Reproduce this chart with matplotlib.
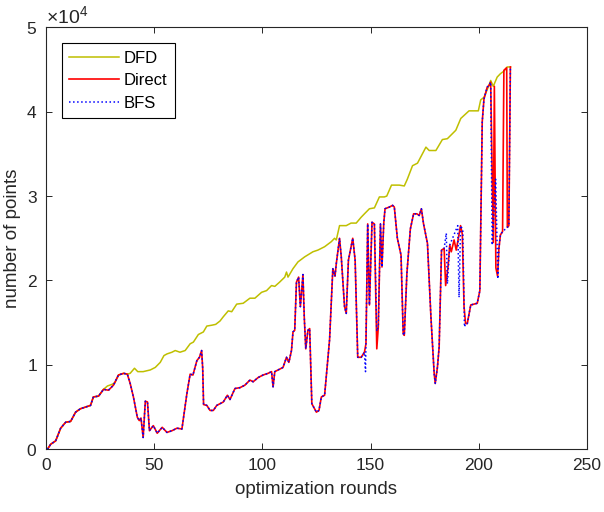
import numpy as np
import matplotlib
matplotlib.use('Agg')
import matplotlib.pyplot as plt
from matplotlib.ticker import ScalarFormatter

# ---- data (round, number of points) ----
dfd_rounds = [0.8, 2.3, 4.6, 6.9, 9.2, 11.5, 13.8, 16, 18.4, 20.7, 22, 24.4, 26.7, 28.5, 30.7, 32,
              33.6, 36, 37.7, 39, 41, 42.5, 45, 48.3, 50.6, 52.9, 54.6, 56, 58.3, 59.8, 62, 64.4,
              66.7, 68.2, 70.5, 72.8, 74.4, 76.7, 78.5, 80.5, 82, 84.3, 85.9, 88.2, 91.2, 94.3,
              96.6, 99.7, 102, 104.3, 105.8, 108, 110.4, 111.2, 111.9, 114.2, 116.5, 119.6, 123.4,
              125.7, 128.8, 131.9, 133.4, 134.2, 135.7, 138.8, 141, 143.4, 145.7, 147.2, 149.5,
              151.8, 154.1, 156.4, 157.5, 159.7, 163.3, 165.6, 167, 169.4, 171.7, 175.6, 177.1,
              180.2, 183.2, 185.5, 189.4, 191.7, 195.5, 199.8, 200.9, 202.4, 204.7, 205.5, 206.7,
              208.5, 210, 211.6, 213.1, 214.7]
dfd_points = [0, 600, 1000, 2500, 3200, 3300, 4400, 4800, 5000, 5200, 6200, 6300, 7100, 7500, 7700, 7900,
              8800, 9000, 8900, 9000, 9600, 9200, 9200, 9400, 9700, 10300, 11100, 11300, 11500, 11700, 11500, 11700,
              12500, 12700, 13600, 13900, 14600, 14700, 14800, 15200, 15700, 16400, 16300, 17200, 17300, 17900,
              17900, 18600, 18800, 19400, 19300, 19800, 20400, 21000, 20400, 21400, 22200, 22800, 23400,
              23600, 24000, 24600, 25000, 24800, 26500, 26500, 26800, 26800, 27500, 27900, 28500,
              28600, 29900, 29900, 30000, 31300, 31300, 31200, 32000, 33600, 33900, 35800, 35400,
              35400, 36700, 36800, 37800, 39200, 40100, 40100, 41400, 41700, 43100, 43700, 43000,
              44100, 44500, 44800, 45300, 45300]

direct_rounds = [0.8, 2.3, 4.6, 6.9, 9.2, 11.5, 13.8, 16, 18.4, 20.7, 22, 24.4, 26.7, 29, 31.3, 33.6,
                 36, 37.7, 39, 40.5, 42.3, 43.2, 44, 45, 46, 47, 47.9, 49.7, 51.5, 53.8, 56, 58.3,
                 60.6, 62.9, 64, 65.2, 66.7, 68, 69.8, 71, 72, 72.5, 72.9, 74.4, 75.9, 77.4, 79, 80.5,
                 82, 83.9, 85.1, 87.4, 89.7, 92, 94.3, 95.8, 98.1, 100.4, 102.7, 104.3, 105, 105.8,
                 107.3, 109.6, 111.2, 112.3, 113.5, 114.2, 115, 115.8, 116.8, 117.6, 118.1, 118.8,
                 119.4, 120.1, 121.1, 121.9, 122.9, 125, 126.2, 127.3, 128.8, 131.1, 132.6, 133.6,
                 134.2, 135.7, 136.5, 138, 138.8, 139.8, 141.8, 142.9, 144.1, 145.7, 147.2, 147.9,
                 148.7, 149.5, 150.7, 151.8, 152.9, 153.6, 154.6, 155.3, 156.1, 156.7, 158.7, 160.2,
                 161, 162.4, 164.1, 165.1, 165.6, 166.8, 168.4, 169.9, 171.4, 172.5, 173.5, 174.5,
                 176.3, 177.9, 179.4, 179.9, 180.9, 181.7, 182.8, 184, 184.7, 185.8, 186.6, 187.3,
                 188.6, 189.6, 190.9, 191.6, 192.4, 193.2, 193.9, 194.7, 196.3, 199.3, 200.5, 201.6,
                 202.4, 203.9, 204.7, 205.5, 206.7, 207.2, 207.9, 208.7, 209.3, 210, 211, 211.6,
                 212.9, 213.2, 213.9, 214.6]
direct_points = [0, 600, 1000, 2500, 3200, 3300, 4400, 4800, 5000, 5200, 6200, 6300, 7100, 7000, 7600, 8800,
                 9000, 8900, 7800, 6200, 3800, 3400, 3700, 1400, 5700, 5600, 2200, 2800, 1900, 2600, 2000, 2200,
                 2500, 2400, 4400, 6600, 8900, 8800, 10500, 10900, 11700, 9600, 5300, 5200, 4600, 4600, 5200, 5400,
                 5600, 6400, 5900, 7200, 7300, 7600, 8200, 8000, 8500, 8800, 9000, 9200, 7400, 9200,
                 9400, 9700, 10900, 10300, 11700, 13900, 14100, 19800, 20400, 16900, 18400, 20700,
                 15700, 11900, 14100, 14300, 5400, 4400, 4600, 6200, 6400, 13000, 21400, 20500,
                 22000, 25000, 22800, 16900, 16100, 22400, 25000, 22400, 10900, 10900, 11500, 12500,
                 26700, 17100, 26900, 26700, 11900, 14500, 26700, 21600, 26700, 28500, 28700, 28900,
                 28700, 25000, 23000, 13700, 13500, 20800, 26100, 27900, 27900, 27700, 28500, 26700,
                 24400, 15700, 9000, 7800, 9700, 12100, 23600, 23800, 19400, 21600, 24200, 23400,
                 24800, 23600, 25500, 26500, 25500, 16900, 14900, 14900, 17100, 17300, 18800, 38800,
                 41500, 42900, 43100, 43500, 24500, 43000, 21500, 20500, 23800, 25400, 25800, 44900,
                 45200, 26300, 26500, 45300]

# BFS follows Direct except in these stretches
bfs_windows = [(147.5, 148.0), (152.5, 153.2), (184.5, 193.5), (205.6, 213.0)]
bfs_extra_rounds = [147.7, 152.9, 185.0, 185.5, 186.6, 190.3, 190.9, 191.6, 192.6, 193.4,
                    206.2, 207.8, 208.8, 209.3, 210, 211]
bfs_extra_points = [9200, 14000, 25600, 19600, 24200, 26500, 18000, 26500, 26000, 14500,
                    24200, 32000, 20200, 23800, 25400, 25800]

keep = [i for i, r in enumerate(direct_rounds) if not any(a <= r <= b for a, b in bfs_windows)]
bfs_rounds = [direct_rounds[i] for i in keep] + bfs_extra_rounds
bfs_points = [direct_points[i] for i in keep] + bfs_extra_points
order = np.argsort(bfs_rounds)
bfs_rounds = np.array(bfs_rounds)[order]
bfs_points = np.array(bfs_points)[order]

plt.rcParams['font.family'] = ['Liberation Sans', 'DejaVu Sans']
plt.rcParams['mathtext.fontset'] = 'custom'
plt.rcParams['mathtext.rm'] = 'Liberation Sans'

txt = '#262626'
fig = plt.figure(figsize=(6.04, 5.12), dpi=100)
ax = fig.add_axes([0.0757, 0.1225, 0.8962, 0.8242])

ax.plot(dfd_rounds, dfd_points, color='#bfbf00', lw=1.1, label='DFD')
ax.plot(direct_rounds, direct_points, color='#ff0000', lw=1.2, label='Direct')
ax.plot(bfs_rounds, bfs_points, color='#0000ff', lw=1.1, ls=':', label='BFS')

ax.set_xlim(0, 250)
ax.set_ylim(0, 50000)
ax.set_xticks([0, 50, 100, 150, 200, 250])
ax.set_yticks([0, 10000, 20000, 30000, 40000, 50000])

fmt = ScalarFormatter(useMathText=True)
fmt.set_powerlimits((0, 0))
ax.yaxis.set_major_formatter(fmt)
ax.yaxis.get_offset_text().set_fontsize(14)
ax.yaxis.get_offset_text().set_color(txt)

ax.tick_params(direction='in', top=True, right=True, length=4, width=0.7,
               labelsize=12.5, colors=txt, pad=6)
for s in ax.spines.values():
    s.set_color(txt)
    s.set_linewidth(0.8)

ax.set_xlabel('optimization rounds', fontsize=13.5, color=txt, labelpad=6)
ax.set_ylabel('number of points', fontsize=13.5, color=txt, labelpad=4)

leg = ax.legend(loc='upper left', bbox_to_anchor=(0.03, 0.962), borderaxespad=0,
                fontsize=12, handlelength=3.0, handletextpad=0.25, labelspacing=0.45,
                fancybox=False, framealpha=1, edgecolor='black', borderpad=0.45)
leg.get_frame().set_linewidth(0.8)

fig.savefig('out.png', dpi=100)
